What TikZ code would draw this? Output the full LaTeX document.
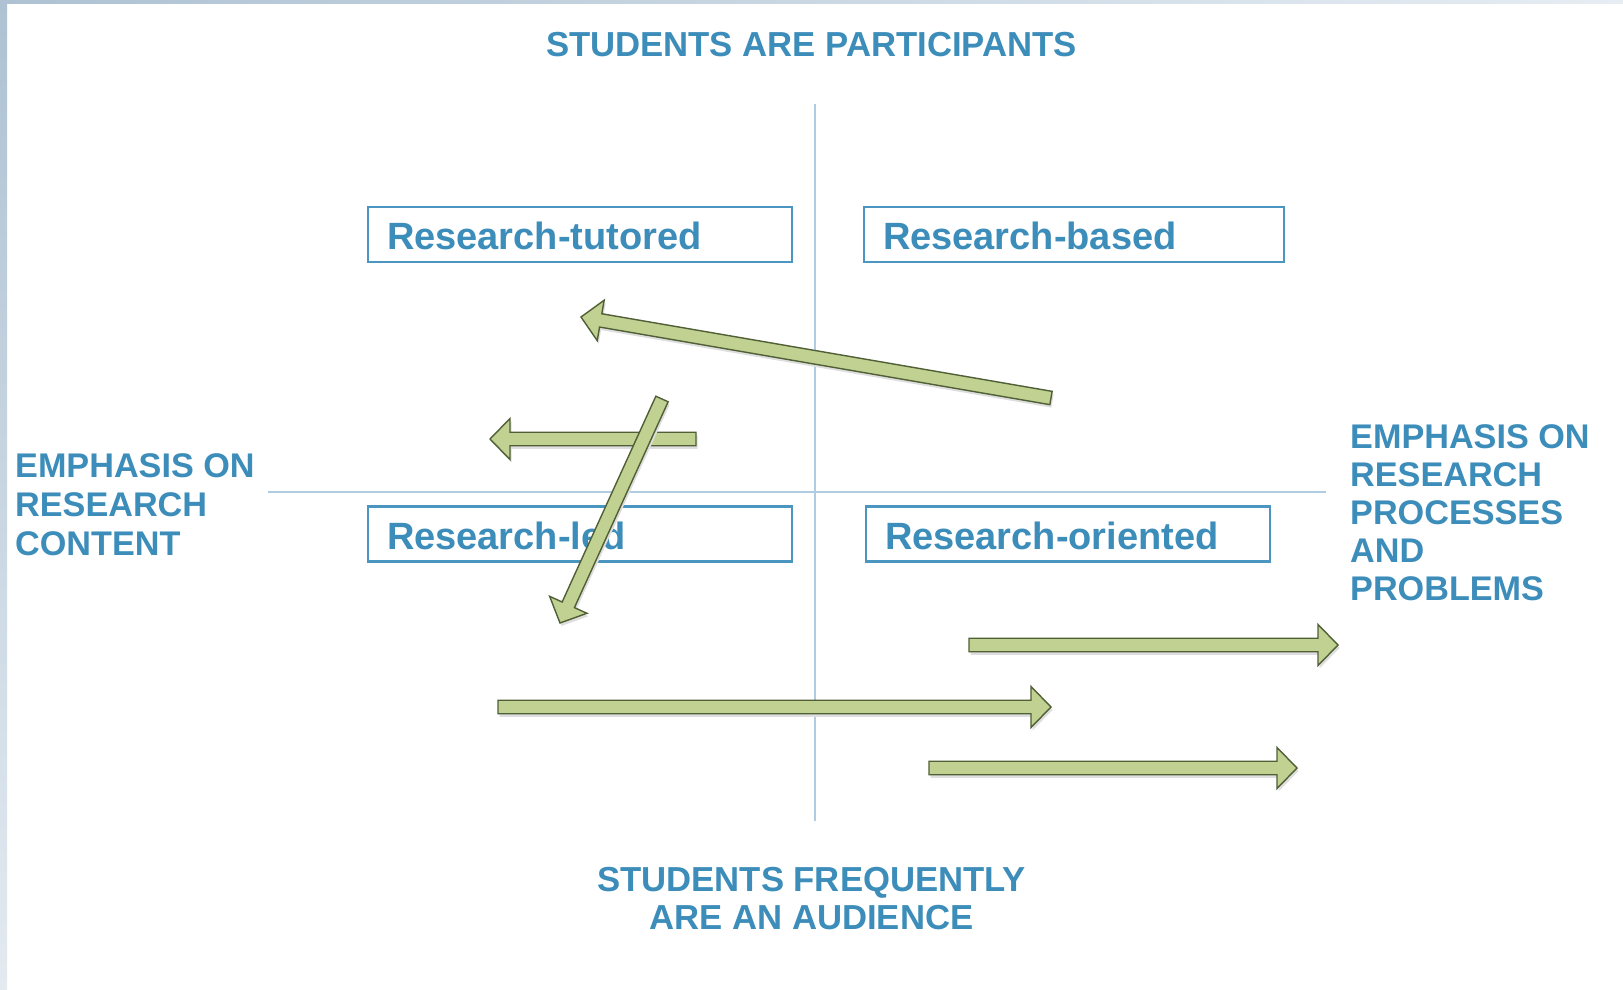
\documentclass[tikz,border=0pt]{standalone}
\usepackage{fontspec}
\setmainfont{Liberation Sans}
\usetikzlibrary{calc}

\definecolor{frameA}{HTML}{AEC2D3}
\definecolor{frameB}{HTML}{E6EDF3}
\definecolor{frameC}{HTML}{E3EAF0}
\definecolor{axisblue}{HTML}{AFCCE2}
\definecolor{boxblue}{HTML}{4A96C0}
\definecolor{inkblue}{HTML}{3C8DBA}
\definecolor{arrowfill}{HTML}{C0D192}
\definecolor{arrowedge}{HTML}{505F35}

\tikzset{
  axisline/.style={draw=axisblue, line width=1.8pt},
  axistext/.style={text=inkblue, inner sep=0pt,
    font=\fontsize{34.2}{38}\selectfont\bfseries},
  headtext/.style={axistext, font=\fontsize{34.7}{38}\selectfont\bfseries},
  quadbox/.style={draw=boxblue, line width=2.6pt, rectangle,
    text=inkblue, font=\fontsize{38}{40}\selectfont\bfseries,
    minimum height=55pt, inner ysep=0pt, inner xsep=19pt,
    text height=30pt, text depth=0pt, align=left},
  arrowbody/.style={fill=arrowfill, draw=arrowedge, line width=1.4pt,
    line join=miter},
  arrowshadow/.style={fill=black!13, draw=none},
}

% block arrow: #1 name, #2 tail coordinate, #3 tip coordinate
\newcommand\blockarrow[3]{%
  \coordinate (#1-b)  at ($(#3)!20pt!(#2)$);
  \coordinate (#1-t1) at ($(#2)!6.75pt!90:(#3)$);
  \coordinate (#1-t2) at ($(#2)!6.75pt!-90:(#3)$);
  \coordinate (#1-b1) at ($(#1-b)!6.75pt!90:(#3)$);
  \coordinate (#1-b2) at ($(#1-b)!6.75pt!-90:(#3)$);
  \coordinate (#1-h1) at ($(#1-b)!20.5pt!90:(#3)$);
  \coordinate (#1-h2) at ($(#1-b)!20.5pt!-90:(#3)$);
  \fill[arrowshadow, transform canvas={shift={(1.5pt,-3pt)}}]
    (#1-t1) -- (#1-b1) -- (#1-h1) -- (#3) -- (#1-h2) -- (#1-b2) -- (#1-t2) -- cycle;
  \draw[arrowbody]
    (#1-t1) -- (#1-b1) -- (#1-h1) -- (#3) -- (#1-h2) -- (#1-b2) -- (#1-t2) -- cycle;
}

\begin{document}
\begin{tikzpicture}[x=1pt, y=-1pt]
\useasboundingbox (0,0) rectangle (1623,990);
\fill[white] (0,0) rectangle (1623,990);

% frame strips along the top and left edges
\shade[left color=frameA, right color=frameB] (0,0) rectangle (1623,4);
\shade[top color=frameA, bottom color=frameC] (0,0) rectangle (7,990);

% axes
\coordinate (vtop) at (815,104);
\coordinate (vbot) at (815,821);
\coordinate (hleft) at (268,492);
\coordinate (hright) at (1326,492);
\draw[axisline] (vtop) -- (vbot);
\draw[axisline] (hleft) -- (hright);

% axis captions
\node[headtext, anchor=base] (captop) at (811.5,57) {STUDENTS ARE PARTICIPANTS};
\node[headtext, anchor=north, align=center] (capbot) at (811.5,867)
  {STUDENTS FREQUENTLY\\ARE AN AUDIENCE};
\node[axistext, anchor=north west, align=left,
      font=\fontsize{34.2}{39}\selectfont\bfseries] (capleft) at (15,453)
  {EMPHASIS ON\\RESEARCH\\CONTENT};
\node[axistext, anchor=north west, align=left] (capright) at (1350,424.5)
  {EMPHASIS ON\\RESEARCH\\PROCESSES\\AND\\PROBLEMS};

% quadrant boxes
\node[quadbox, text width=386pt] (tutored)  at (580,234.5) {Research-tutored};
\node[quadbox, text width=382pt] (based)    at (1074,234.5) {Research-based};
\node[quadbox, text width=386pt] (led)      at (580,534) {Research-led};
\node[quadbox, text width=366pt] (oriented) at (1068,534) {Research-oriented};

% arrows
\coordinate (a1tail) at (1051,398);  \coordinate (a1tip) at (581,317);
\coordinate (a2tail) at (696,439);   \coordinate (a2tip) at (490,439);
\coordinate (a3tail) at (662,399);   \coordinate (a3tip) at (560,623);
\coordinate (a4tail) at (969,645);   \coordinate (a4tip) at (1338,645);
\coordinate (a5tail) at (498,707);   \coordinate (a5tip) at (1051,707);
\coordinate (a6tail) at (929,768);   \coordinate (a6tip) at (1297,768);

\blockarrow{a1}{a1tail}{a1tip}
\blockarrow{a2}{a2tail}{a2tip}
\blockarrow{a3}{a3tail}{a3tip}
\blockarrow{a4}{a4tail}{a4tip}
\blockarrow{a5}{a5tail}{a5tip}
\blockarrow{a6}{a6tail}{a6tip}
\end{tikzpicture}
\end{document}
